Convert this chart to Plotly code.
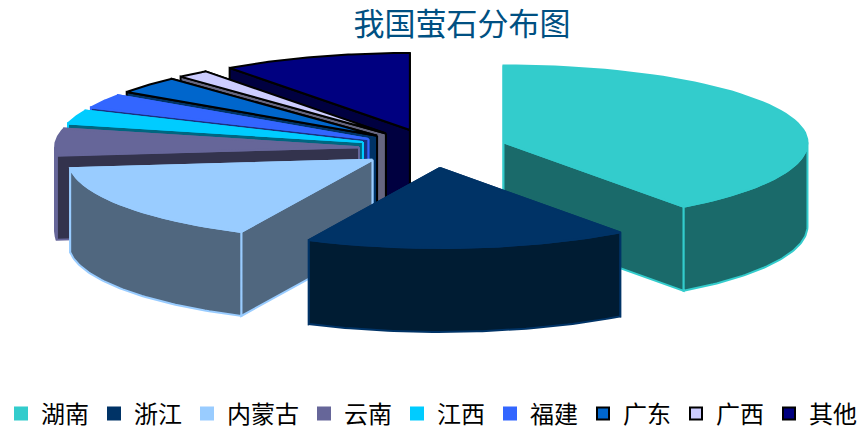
import numpy as np
import plotly.graph_objects as go

title = "我国萤石分布图"
provinces = ["湖南", "浙江", "内蒙古", "云南", "江西", "福建", "广东", "广西", "其他"]
shares = [39.9, 17.2, 16.2, 5.6, 2.8, 2.9, 3.6, 1.7, 10.1]

top_colors = ["#33CCCC", "#003366", "#99CCFF", "#666699", "#00CCFF", "#3366FF", "#0066CC", "#CCCCFF", "#000080"]
side_colors = ["#1A6A6A", "#001C33", "#50677F", "#33334D", "#006680", "#1A3380", "#003366", "#666680", "#000040"]
edge_colors = ["#33CCCC", "#003366", "#99CCFF", "#666699", "#00CCFF", "#3366FF", "#000000", "#000000", "#000000"]

CX, CY = 433, 148.5
RX = 304
RY_FRONT, RY_BACK = 80, 77
DEPTH = 84
EXPLODE = 0.244
W, H = 863, 430

bounds = np.concatenate([[0], np.cumsum(shares)]) * 360 / sum(shares)


def arc(ax, ay, a, b, n=60):
    t = np.radians(np.linspace(a, b, n))
    c = np.cos(t)
    return ax + RX * np.sin(t), ay - np.where(c > 0, RY_BACK, RY_FRONT) * c


fig = go.Figure()


def face(xs, ys, fill, edge):
    fig.add_trace(go.Scatter(
        x=list(xs), y=list(ys), mode="lines", fill="toself", fillcolor=fill,
        line=dict(color=edge, width=2), hoverinfo="skip", showlegend=False))


slices = []
for i in range(len(shares)):
    a, b = bounds[i], bounds[i + 1]
    m = np.radians((a + b) / 2)
    ax = CX + EXPLODE * RX * np.sin(m)
    ay = CY - EXPLODE * RY_FRONT * np.cos(m)
    slices.append((i, a, b, ax, ay))

# painter's order: back slices first, the two front slices last
order = [8, 7, 6, 5, 4, 3, 2, 0, 1]
for i in order:
    _, a, b, ax, ay = slices[i]
    top, side, edge = top_colors[i], side_colors[i], edge_colors[i]
    # far cut wall first, near cut wall over it
    walls = sorted((a, b), key=lambda ang: arc(ax, ay, ang, ang, 1)[1][0])
    for ang in walls:
        ox, oy = arc(ax, ay, ang, ang, 1)
        face([ax, ox[0], ox[0], ax, ax], [ay, oy[0], oy[0] + DEPTH, ay + DEPTH, ay], side, edge)
    lo, hi = max(a, 90), min(b, 270)
    if hi > lo:
        wx, wy = arc(ax, ay, lo, hi)
        face(np.r_[wx, wx[::-1], wx[0]], np.r_[wy, wy[::-1] + DEPTH, wy[0]], side, edge)
    tx, ty = arc(ax, ay, a, b)
    face(np.r_[ax, tx, ax], np.r_[ay, ty, ay], top, edge)

for i, name in enumerate(provinces):
    fig.add_trace(go.Scatter(
        x=[None], y=[None], mode="markers", name=name,
        marker=dict(symbol="square", size=16, color=top_colors[i],
                    line=dict(color=edge_colors[i] if i >= 6 else top_colors[i], width=2))))

fig.update_layout(
    width=W, height=H, autosize=False,
    margin=dict(l=0, r=0, t=0, b=0, autoexpand=False),
    paper_bgcolor="white", plot_bgcolor="white",
    font=dict(family="Noto Sans CJK SC", color="black"),
    title=dict(text=title, x=462 / W, xanchor="center", y=1 - 24 / H, yanchor="middle",
               font=dict(size=31, color="#005082", family="Noto Sans CJK SC")),
    xaxis=dict(range=[0, W], visible=False, fixedrange=True),
    yaxis=dict(range=[H, 0], visible=False, fixedrange=True),
    legend=dict(orientation="h", x=1 / W, xanchor="left", y=1 - 414 / H, yanchor="middle",
                font=dict(size=24, color="black"), itemsizing="constant",
                bgcolor="rgba(0,0,0,0)", traceorder="normal"),
)

fig.write_html("out.html", config={"displayModeBar": False},
               post_script="document.body.style.margin='0';")
